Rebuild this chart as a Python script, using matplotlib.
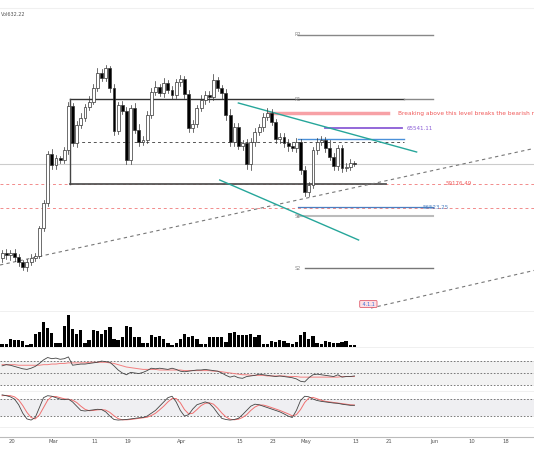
import matplotlib
matplotlib.use("Agg")
import matplotlib.pyplot as plt
import numpy as np
from matplotlib.patches import Rectangle

W, H = 534, 462
fig = plt.figure(figsize=(W/100, H/100), dpi=100)

# ---- data: candles (pixel-y readings, chart has no price scale) ----
opens = [258,253,255,253,257,262,267,262,258,256,228,203,154,165,158,160,150,106,143,125,
         118,107,102,88,73,78,68,88,131,105,111,160,108,130,142,140,115,92,87,93,
         83,90,95,82,79,94,128,124,108,100,95,97,80,88,93,115,142,127,146,143,
         164,142,132,127,117,113,122,139,137,143,146,148,142,170,192,185,150,142,140,148,
         157,166,148,168,167,163]
closes = [253,255,253,257,262,267,262,258,256,228,203,154,165,158,160,150,106,143,125,118,
          107,102,88,73,78,68,88,131,105,111,160,108,130,142,140,115,92,87,93,83,
          90,95,82,79,94,128,124,108,100,95,97,80,88,93,115,142,127,146,143,164,
          142,132,127,117,113,122,139,137,143,146,148,142,170,192,185,150,142,140,148,157,
          166,148,168,167,163,164]
wick_up = [3,4,3,4,3,2,3,4,3,2,3,3,5,3,2,3,4,3,4,5,3,6,4,5,4,3,2,4,3,4,
           4,3,5,6,4,4,4,6,3,5,3,4,3,4,3,4,4,3,5,4,4,6,3,3,4,6,4,4,3,4,
           4,4,3,4,5,4,3,4,4,4,3,4,3,4,3,3,4,4,3,8,4,3,3,4,4,2]
wick_dn = [4,4,5,4,4,3,4,3,3,2,3,3,4,4,3,3,4,3,4,3,3,3,2,3,3,3,4,4,3,3,
           4,4,3,4,3,3,3,3,3,4,3,4,3,4,4,4,4,3,3,4,5,3,3,6,5,4,4,3,4,5,
           6,4,3,4,3,3,4,4,4,5,3,4,4,4,4,3,4,3,4,3,4,4,4,3,3,2]
volume = [3,3,8,7,7,6,2,3,12,14,24,18,13,4,4,20,30,17,12,16,4,7,16,15,12,16,19,8,7,9,
          20,19,9,9,4,4,11,9,10,8,4,2,4,8,12,9,10,8,3,3,9,9,9,9,5,13,14,11,11,11,
          12,9,11,3,3,6,5,7,6,4,3,5,11,14,8,10,4,3,6,5,4,4,5,6,2,2]
rsi = [62,64,63,61,59,57,56,58,61,66,72,76,74,75,73,74,77,63,64,65,
       65,66,67,68,70,69,68,62,55,50,47,51,50,49,51,54,58,57,58,57,
       56,58,56,53,52,53,54,55,55,56,55,54,53,50,46,43,45,42,41,44,
       45,46,48,47,46,45,44,45,44,43,42,40,36,35,42,47,48,47,46,45,
       44,47,43,44,44,45]
rsi_ma = [64,64,64,64,63,63,63,63,63,63,64,64,65,65,66,66,67,67,67,67,
          67,68,68,68,68,68,67,66,64,62,60,59,58,57,56,56,56,56,55,55,
          55,55,55,55,54,54,54,54,54,54,54,53,53,52,51,50,49,48,47,47,
          46,46,46,46,45,45,45,45,45,44,44,44,43,43,43,43,43,43,43,43,
          43,43,44,44,44,44]
stoch_k = [95,92,88,80,60,30,10,6,15,50,85,92,90,85,80,78,80,70,55,40,
           38,40,42,44,43,35,20,8,6,7,8,10,12,14,15,20,30,40,55,70,
           85,90,70,40,20,25,45,60,65,70,65,50,30,12,8,6,8,12,25,40,
           55,62,60,55,50,45,40,35,28,20,15,40,75,90,88,80,75,72,70,68,
           66,65,62,60,58,58]
stoch_d = [92,93,92,88,77,57,33,15,10,24,50,76,89,89,85,81,79,76,68,55,
           44,39,40,42,43,41,33,21,11,7,7,8,10,12,14,16,22,30,42,55,
           70,82,82,67,43,28,30,43,57,65,67,62,48,31,17,9,7,9,15,25,
           40,52,59,59,55,50,45,40,34,28,21,25,43,68,84,86,81,76,72,70,
           68,66,64,62,60,59]

dates_ticks = [2.4, 12.4, 22.4, 30.4, 43.4, 57.4, 65.4, 73.4, 85.4, 93.4, 104.4, 113.4, 121.4]
tick_labels = ["20", "Mar", "11", "19", "Apr", "15", "23", "May", "13", "21", "Jun", "10", "18"]

n = len(opens)
idx = np.arange(n)
PX = 4.13
xlim = (-0.5 - 0.0, (W - 2) / PX - 0.5)

def conv(v):  # pixel reading -> price
    return 79840 - 111.7 * np.asarray(v, float)

o = conv(opens); c = conv(closes)
hi = np.maximum(o, c) + 111.7*np.array(wick_up)
lo = np.minimum(o, c) - 111.7*np.array(wick_dn)

def ax_at(top, bottom):
    return fig.add_axes([0, 1 - bottom/H, 1, (bottom-top)/H])

ax = ax_at(8, 310)
ax.set_xlim(*xlim)
ax.set_ylim(conv(310), conv(8))
for s in ax.spines.values(): s.set_visible(False)
ax.set_xticks([]); ax.set_yticks([])

# reference lines
ax.axhline(conv(164), color="#cccccc", lw=0.8)
ax.axhline(conv(184), color="#f28b8b", lw=0.7, ls=(0, (3, 3)))
ax.axhline(conv(208), color="#f28b8b", lw=0.7, ls=(0, (3, 3)))
def hline(y, x0, x1, **kw): ax.plot([x0, x1], [conv(y)]*2, **kw)
hline(142, 16.5, 97, color="#555", lw=0.7, ls=(0, (3, 3)))
hline(99, 16.5, 97, color="#333", lw=1.0)
hline(99, 97, 104, color="#888", lw=1.0)
hline(184, 16.5, 92.5, color="#555", lw=1.3)
ax.plot([16.5, 16.5], [conv(99), conv(184)], color="#444", lw=1.0)
hline(35, 71.5, 104, color="#888", lw=1.0)
hline(268, 73, 104, color="#777", lw=1.0)
hline(216, 71.5, 104, color="#bbb", lw=1.5)
hline(207, 71.5, 104, color="#4a7fc1", lw=0.9)
hline(139, 71.5, 97, color="#4a90d9", lw=1.0)
hline(128, 78, 96.5, color="#8a5cd6", lw=1.3)
hline(113, 64.5, 93, color="#f7a1a6", lw=2.5)
ax.text(70.5, conv(35), "R2", fontsize=3.5, color="#888", va="center")
ax.text(70.5, conv(99), "R1", fontsize=3.5, color="#888", va="center")
ax.text(70.5, conv(216), "S1", fontsize=3.5, color="#888", va="center")
ax.text(70.5, conv(268), "S2", fontsize=3.5, color="#888", va="center")
ax.text(95.5, conv(113), "Breaking above this level breaks the bearish market structure",
        fontsize=4.2, color="#f05a5a", va="center", clip_on=True)
ax.text(97.5, conv(128), "65541.11", fontsize=4, color="#8a5cd6", va="center")
ax.text(107, conv(183), "59176.49", fontsize=4, color="#f05a5a", va="center")
ax.text(101.5, conv(207), "56523.25", fontsize=4, color="#4a7fc1", va="center")
# trendlines
ax.plot([-0.5, 128.8], [conv(265), conv(148)], color="#777", lw=0.8, ls=(0, (3, 3)))
ax.plot([89, 128.8], [conv(308), conv(270)], color="#777", lw=0.8, ls=(0, (3, 3)))
ax.plot([57, 100], [conv(103), conv(152)], color="#26a69a", lw=1.0)
ax.plot([52.5, 86], [conv(180), conv(240)], color="#26a69a", lw=1.0)
ax.text(86.5, conv(304), " 4.1.1 ", fontsize=3.5, color="#3a6fd8", va="center",
        bbox=dict(boxstyle="round,pad=0.2", fc="#fde0e4", ec="#e06070", lw=0.6))
ax.text(-0.3, conv(14), "Vol632.22", fontsize=3.5, color="#555", va="center")

# candles
for i in range(n):
    up = c[i] < o[i] if False else c[i] > o[i]
    ax.plot([i, i], [lo[i], hi[i]], color="#333", lw=0.5, zorder=3)
    b0 = min(o[i], c[i]); bh = max(abs(c[i]-o[i]), 60)
    ax.add_patch(Rectangle((i-0.35, b0), 0.7, bh, fc="white" if up else "black",
                           ec="#333", lw=0.5, zorder=4))

# volume
av = ax_at(312, 347)
av.bar(idx, volume, width=0.8, color="black")
av.set_xlim(*xlim); av.set_ylim(0, 33)
av.axhline(0, color="#ddd", lw=0.6)
av.axis("off")

# RSI
ar = ax_at(348, 392)
ar.axhspan(30, 70, color="#f2f2f2", lw=0)
for lv in (70, 50, 30):
    ar.axhline(lv, color="#666", lw=0.6, ls=(0, (2, 2)))
ar.plot(idx, rsi_ma, color="#f28080", lw=0.7)
ar.plot(idx, rsi, color="#444", lw=0.6)
ar.set_xlim(*xlim); ar.set_ylim(18, 92)
ar.axis("off")

# Stoch
ast = ax_at(392, 428)
ast.axhspan(20, 80, color="#efeff2", lw=0)
for lv in (80, 20):
    ast.axhline(lv, color="#666", lw=0.6, ls=(0, (2, 2)))
ast.plot(idx, stoch_d, color="#f07070", lw=0.7)
ast.plot(idx, stoch_k, color="#444", lw=0.6)
ast.set_xlim(*xlim); ast.set_ylim(-22, 105)
ast.axis("off")

# separators and x axis
for y in (311, 347, 391, 427):
    fig.add_artist(plt.Line2D([0, 1], [1 - y/H]*2, color="#eeeeee", lw=0.6))
fig.add_artist(plt.Line2D([0, 1], [1 - 437/H]*2, color="#bbbbbb", lw=0.8))
fig.add_artist(plt.Line2D([0, 1], [1 - 8/H]*2, color="#f0f0f0", lw=0.8))
axx = ax_at(437, 448)
axx.set_xlim(*xlim); axx.set_ylim(0, 1); axx.axis("off")
for t, l in zip(dates_ticks, tick_labels):
    axx.text(t, 0.55, l, fontsize=3.8, color="#555", ha="center", va="center")

fig.savefig("out.png", dpi=100, facecolor="white")
